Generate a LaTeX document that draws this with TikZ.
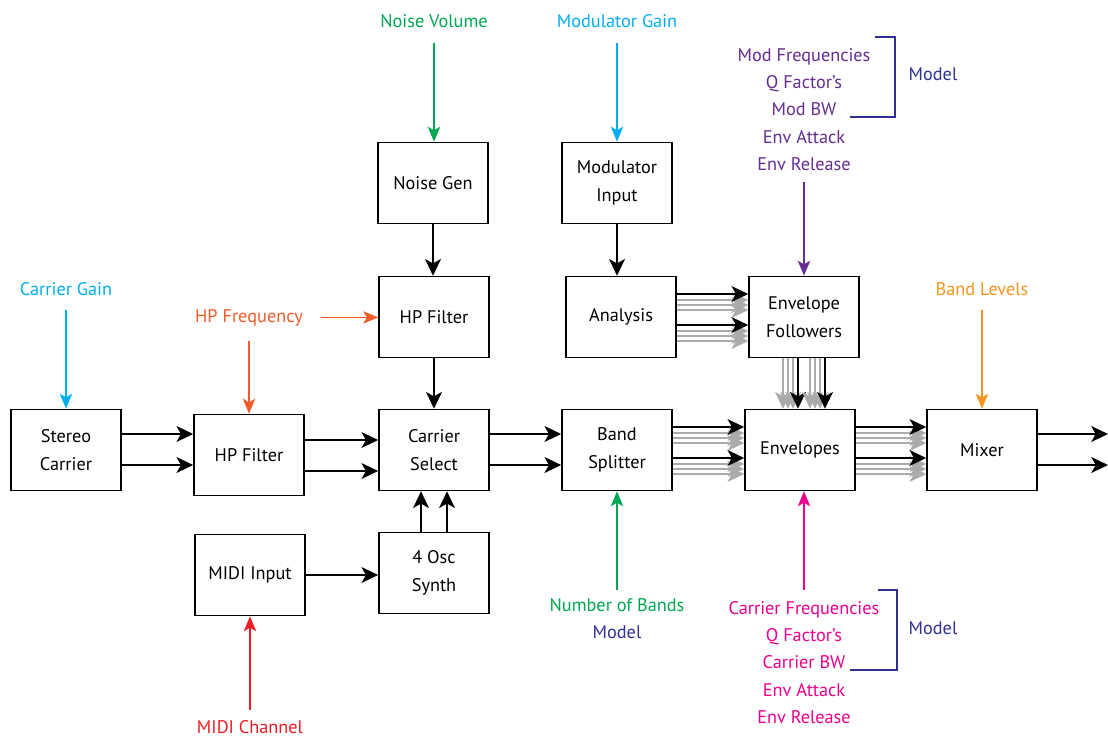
\documentclass[tikz,border=0pt]{standalone}
\usepackage{fontspec}
\setmainfont{PT Sans}
\usetikzlibrary{arrows.meta}

\definecolor{nvgreen}{RGB}{0,166,81}
\definecolor{gaincyan}{RGB}{0,174,239}
\definecolor{hporange}{RGB}{241,90,41}
\definecolor{bandorange}{RGB}{247,148,29}
\definecolor{modpurple}{RGB}{102,45,145}
\definecolor{modelnavy}{RGB}{46,49,146}
\definecolor{carrpink}{RGB}{236,0,140}
\definecolor{midired}{RGB}{237,28,36}

\tikzset{
	block/.style={draw, line width=0.9pt, minimum width=2.2cm, minimum height=1.62cm, align=center, inner sep=0pt},
	arr/.style={line width=1.1pt, -{Stealth[length=9.5pt, width=9pt, inset=2.5pt]}},
	garr/.style={arr, draw=black!33, fill=black!33, line width=0.9pt},
	carr/.style={line width=0.9pt, -{Stealth[length=8.5pt, width=7pt, inset=2pt]}},
	lbl/.style={align=center, inner sep=1pt},
	bracket/.style={modelnavy, line width=0.75pt},
}

\begin{document}
\begin{tikzpicture}[x=0.02cm, y=-0.02cm, font=\fontsize{10.4}{15.6}\selectfont]
	\useasboundingbox (0,0) rectangle (1108,738);

	% boxes
	\node[block] (sc) at (66,450) {Stereo\\Carrier};
	\node[block] (hpf) at (249,455) {HP Filter};
	\node[block] (csel) at (434,450) {Carrier\\Select};
	\node[block] (ngen) at (433,183) {Noise Gen};
	\node[block] (hpf2) at (434,317) {HP Filter};
	\node[block] (osc) at (434,573) {4 Osc\\Synth};
	\node[block] (midi) at (250,575) {MIDI Input};
	\node[block] (modin) at (617,183) {Modulator\\Input};
	\node[block] (ana) at (621,317) {Analysis};
	\node[block] (bsplit) at (617,450) {Band\\Splitter};
	\node[block] (envf) at (804,317) {Envelope\\Followers};
	\node[block] (env) at (800,450) {Envelopes};
	\node[block] (mix) at (982,450) {Mixer};
	\coordinate (outa) at (1108,434);
	\coordinate (outb) at (1108,465);

	% labels
	\node[lbl, anchor=base, text=nvgreen] (nvol) at (434,27) {Noise Volume};
	\node[lbl, anchor=base, text=gaincyan] (mgain) at (617,27) {Modulator Gain};
	\node[lbl, anchor=base, text=gaincyan] (cgain) at (66,295) {Carrier Gain};
	\node[lbl, anchor=base, text=hporange] (hpfreq) at (249,322) {HP Frequency};
	\node[lbl, anchor=base, text=bandorange] (blev) at (982,295) {Band Levels};
	\node[lbl, text=modpurple] (modpar) at (804,109.5) {Mod Frequencies\\Q Factor’s\\Mod BW\\Env Attack\\Env Release};
	\node[lbl, text=carrpink] (carpar) at (804,662.5) {Carrier Frequencies\\Q Factor’s\\Carrier BW\\Env Attack\\Env Release};
	\node[lbl] (nbands) at (617,618.5) {\textcolor{nvgreen}{Number of Bands}\\\textcolor{modelnavy}{Model}};
	\node[lbl, text=midired] (mchan) at (250,727) {MIDI Channel};
	\node[lbl, text=modelnavy] (modela) at (933,74) {Model};
	\node[lbl, text=modelnavy] (modelb) at (933,628) {Model};

	% brackets
	\draw[bracket] (875,37) -- (895,37) -- (895,117) -- (850,117);
	\draw[bracket] (878,590) -- (897,590) -- (897,670) -- (850,670);

	% control arrows
	\draw[carr, nvgreen] ([yshift=-9pt]nvol.base) -- (nvol.base |- ngen.north);
	\draw[carr, gaincyan] ([yshift=-9pt]mgain.base) -- (mgain.base |- modin.north);
	\draw[carr, gaincyan] ([yshift=-8.5pt]cgain.base) -- (cgain.base |- sc.north);
	\draw[carr, hporange] ([yshift=-11pt]hpfreq.base) -- (hpfreq.base |- hpf.north);
	\draw[carr, hporange] ([xshift=9pt]hpfreq.east) -- (hpfreq.east -| hpf2.west);
	\draw[carr, bandorange] ([yshift=-8.5pt]blev.base) -- (blev.base |- mix.north);
	\draw[carr, modpurple] ([yshift=-5pt]modpar.south) -- (modpar.south |- envf.north);
	\draw[carr, carrpink] ([yshift=5pt]carpar.north) -- (carpar.north |- env.south);
	\draw[carr, nvgreen] ([yshift=3.5pt]nbands.north) -- (nbands.north |- bsplit.south);
	\draw[carr, midired] ([yshift=4.5pt]mchan.north) -- (mchan.north |- midi.south);

	% signal arrows
	\foreach \dy in {0.32,-0.30} {
		\draw[arr] ([yshift=\dy cm]sc.east) -- ([yshift=\dy cm]sc.east -| hpf.west);
		\draw[arr] ([yshift=\dy cm]csel.east) -- ([yshift=\dy cm]csel.east -| bsplit.west);
	}
	\foreach \dy in {0.30,-0.32}
		\draw[arr] ([yshift=\dy cm]hpf.east) -- ([yshift=\dy cm]hpf.east -| csel.west);
	\draw[arr] ([yshift=0.32cm]mix.east) -- (outa);
	\draw[arr] ([yshift=-0.30cm]mix.east) -- (outb);
	\draw[arr] (ngen.south) -- (ngen.south |- hpf2.north);
	\draw[arr] (hpf2.south) -- (hpf2.south |- csel.north);
	\draw[arr] (modin.south) -- (modin.south |- ana.north);
	\draw[arr] (midi.east) -- (midi.east -| osc.west);
	\foreach \dx in {-0.26,0.26}
		\draw[arr] ([xshift=\dx cm]osc.north) -- ([xshift=\dx cm]osc.north |- csel.south);

	% band bundles
	\foreach \dy in {0.46,-0.16} {
		\foreach \g in {0.32,0.22,0.12} {
			\draw[garr] ([yshift={(\dy-\g)*1cm}]ana.east) -- ([yshift={(\dy-\g)*1cm}]ana.east -| envf.west);
			\draw[garr] ([yshift={(\dy-\g)*1cm}]bsplit.east) -- ([yshift={(\dy-\g)*1cm}]bsplit.east -| env.west);
			\draw[garr] ([yshift={(\dy-\g)*1cm}]env.east) -- ([yshift={(\dy-\g)*1cm}]env.east -| mix.west);
		}
		\draw[arr] ([yshift=\dy cm]ana.east) -- ([yshift=\dy cm]ana.east -| envf.west);
		\draw[arr] ([yshift=\dy cm]bsplit.east) -- ([yshift=\dy cm]bsplit.east -| env.west);
		\draw[arr] ([yshift=\dy cm]env.east) -- ([yshift=\dy cm]env.east -| mix.west);
	}
	\foreach \dx in {-0.12,0.42} {
		\foreach \g in {0.30,0.20,0.10}
			\draw[garr] ([xshift={(\dx-\g)*1cm}]envf.south) -- ([xshift={(\dx-\g)*1cm}]envf.south |- env.north);
		\draw[arr] ([xshift=\dx cm]envf.south) -- ([xshift=\dx cm]envf.south |- env.north);
	}

\end{tikzpicture}
\end{document}
